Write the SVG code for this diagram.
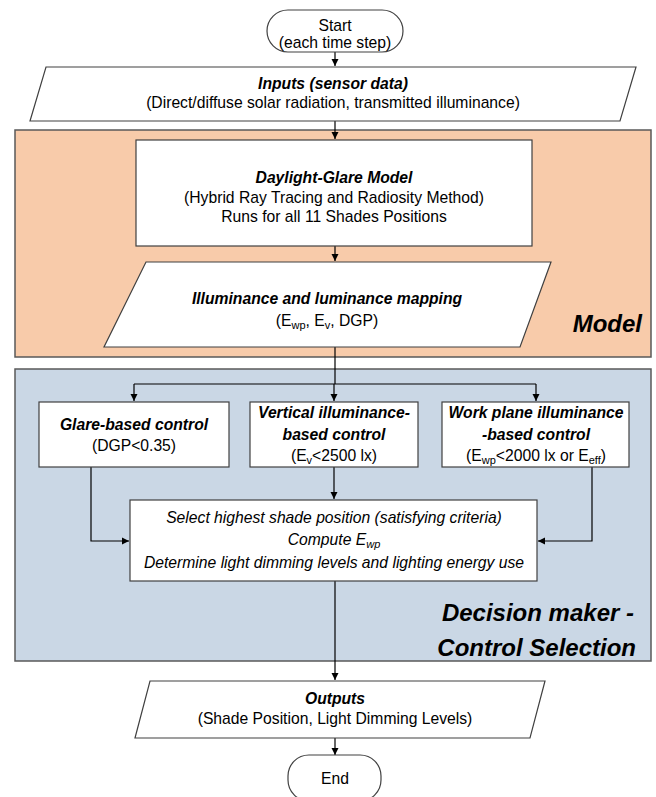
<svg xmlns="http://www.w3.org/2000/svg" width="656" height="797" viewBox="0 0 656 797">
<defs>
<marker id="ah" viewBox="0 0 10 10" refX="10" refY="5" markerWidth="7" markerHeight="8" markerUnits="userSpaceOnUse" orient="auto"><path d="M0,0 L10,5 L0,10 z" fill="#000"/></marker>
<style>
text{font-family:"Liberation Sans",Arial,sans-serif;font-size:15.7px;fill:#000;text-anchor:middle}
.bi{font-weight:bold;font-style:italic}
.it{font-style:italic}
.big{font-weight:bold;font-style:italic;font-size:24px;text-anchor:end}
.shape{fill:#fff;stroke:#404040;stroke-width:1.2}
.region{stroke:#595959;stroke-width:1.5}
.conn{fill:none;stroke:#000;stroke-width:1.2}
.sub{font-size:11px}
</style>
</defs>
<g id="model-region"><rect class="region" x="15" y="130" width="636" height="227" fill="#F8CBAA"/><text class="big" x="642" y="332">Model</text></g>
<g id="decision-region"><rect class="region" x="15" y="369" width="636" height="292" fill="#CAD7E5"/><text class="big" x="634" y="621">Decision maker -</text><text class="big" x="636" y="656">Control Selection</text></g>
<g id="connectors">
<path class="conn" d="M335,52 V66" marker-end="url(#ah)"/>
<path class="conn" d="M335,121 V139" marker-end="url(#ah)"/>
<path class="conn" d="M335,246 V261" marker-end="url(#ah)"/>
<path class="conn" d="M335,347 V384"/>
<path class="conn" d="M134,384 H536"/>
<path class="conn" d="M134,384 V401" marker-end="url(#ah)"/>
<path class="conn" d="M334,384 V401" marker-end="url(#ah)"/>
<path class="conn" d="M536,384 V401" marker-end="url(#ah)"/>
<path class="conn" d="M91,467 V541 H129" marker-end="url(#ah)"/>
<path class="conn" d="M334,467 V499" marker-end="url(#ah)"/>
<path class="conn" d="M592,467 V541 H538" marker-end="url(#ah)"/>
<path class="conn" d="M335,581 V680" marker-end="url(#ah)"/>
<path class="conn" d="M335,738 V755" marker-end="url(#ah)"/>
</g>
<g id="start"><rect class="shape" x="267" y="10" width="136" height="42" rx="21"/><text x="335" y="31">Start</text><text x="335" y="48">(each time step)</text></g>
<g id="inputs"><path class="shape" d="M46,67 H636 L620,121 H30 Z"/><text class="bi" x="333" y="89">Inputs (sensor data)</text><text x="333" y="108">(Direct/diffuse solar radiation, transmitted illuminance)</text></g>
<g id="daylight-model"><rect class="shape" x="136" y="140" width="396" height="106"/><text class="bi" x="334" y="183">Daylight-Glare Model</text><text x="334" y="203">(Hybrid Ray Tracing and Radiosity Method)</text><text x="334" y="222">Runs for all 11 Shades Positions</text></g>
<g id="mapping"><path class="shape" d="M146,262 H551 L520,347 H104 Z"/><text class="bi" x="327" y="304">Illuminance and luminance mapping</text><text x="327" y="326">(E<tspan class="sub" dy="3">wp</tspan><tspan dy="-3">, E</tspan><tspan class="sub" dy="3">v</tspan><tspan dy="-3">, DGP)</tspan></text></g>
<g id="glare-control"><rect class="shape" x="39" y="402" width="190" height="65"/><text class="bi" x="134" y="430">Glare-based control</text><text x="134" y="451">(DGP&lt;0.35)</text></g>
<g id="vertical-control"><rect class="shape" x="250" y="402" width="168" height="65"/><text class="bi" x="334" y="418">Vertical illuminance-</text><text class="bi" x="334" y="440">based control</text><text x="334" y="461">(E<tspan class="sub" dy="3">v</tspan><tspan dy="-3">&lt;2500 lx)</tspan></text></g>
<g id="workplane-control"><rect class="shape" x="442" y="402" width="187" height="65"/><text class="bi" x="536" y="418">Work plane illuminance</text><text class="bi" x="536" y="440">-based control</text><text x="536" y="461">(E<tspan class="sub" dy="3">wp</tspan><tspan dy="-3">&lt;2000 lx or E</tspan><tspan class="sub" dy="3">eff</tspan><tspan dy="-3">)</tspan></text></g>
<g id="select"><rect class="shape" x="130" y="500" width="407" height="81"/><text class="it" x="334" y="523">Select highest shade position (satisfying criteria)</text><text class="it" x="334" y="545">Compute E<tspan class="sub" dy="3">wp</tspan></text><text class="it" x="334" y="568">Determine light dimming levels and lighting energy use</text></g>
<g id="outputs"><path class="shape" d="M150,681 H545 L530,738 H135 Z"/><text class="bi" x="335" y="704">Outputs</text><text x="335" y="724">(Shade Position, Light Dimming Levels)</text></g>
<g id="end"><rect class="shape" x="288" y="755" width="93" height="46" rx="21"/><text x="335" y="784">End</text></g>
</svg>
